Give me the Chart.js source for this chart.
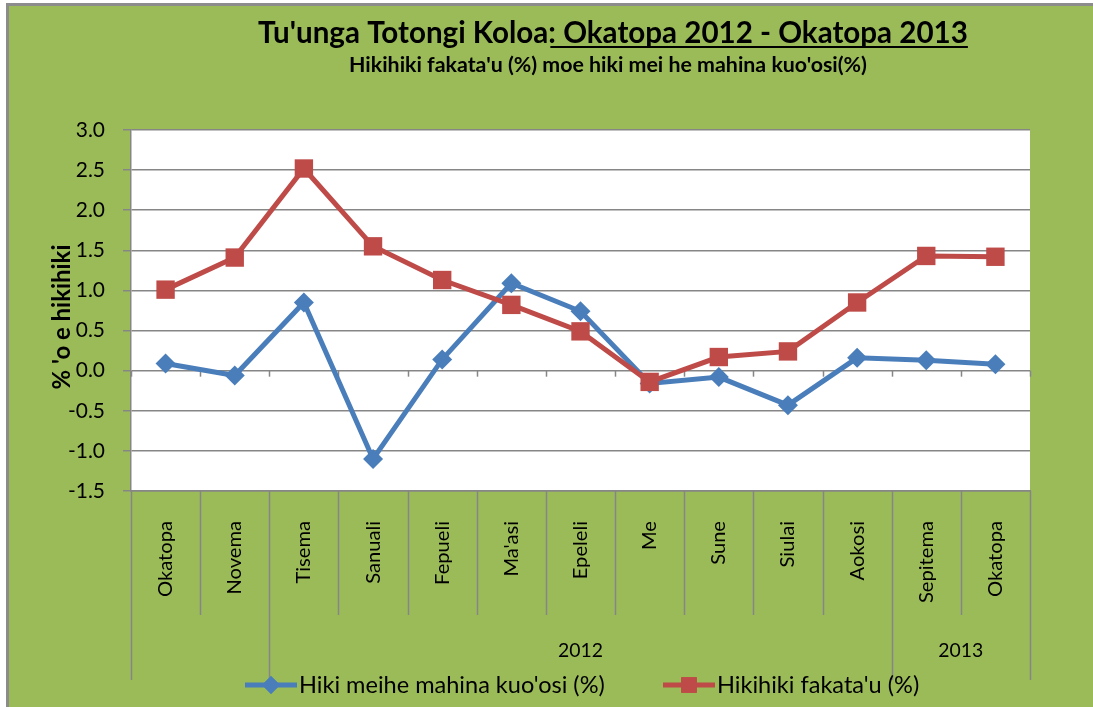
<!DOCTYPE html>
<html>
<head>
<meta charset="utf-8">
<script src="https://cdn.jsdelivr.net/npm/chart.js@4.4.0/dist/chart.umd.min.js"></script>
<style>
  html, body { margin: 0; padding: 0; background: #fff; }
</style>
</head>
<body>
<canvas id="cpiChart" width="1093" height="707"></canvas>
<script>
// mahina (categories)
const months = ['Okatopa', 'Novema', 'Tisema', 'Sanuali', 'Fepueli', "Ma'asi", 'Epeleli', 'Me', 'Sune', 'Siulai', 'Aokosi', 'Sepitema', 'Okatopa'];
// year row under the months: label + first / last-exclusive month index
const yearLabels = ['', '2012', '2013'];
const yearStarts = [0, 2, 11];
const yearEnds = [2, 11, 13];

const monthlyChange = [0.09, -0.06, 0.85, -1.10, 0.14, 1.09, 0.74, -0.16, -0.08, -0.43, 0.16, 0.13, 0.08];
const annualChange = [1.01, 1.41, 2.52, 1.55, 1.13, 0.82, 0.49, -0.14, 0.17, 0.24, 0.85, 1.43, 1.42];

const seriesNames = ["Hiki meihe mahina kuo'osi (%)", "Hikihiki fakata'u (%)"];
const yMin = -1.5, yMax = 3.0, yStep = 0.5;

const titleMain = "Tu'unga Totongi Koloa";
const titleUnder = ": Okatopa 2012 - Okatopa 2013";
const subTitle = "Hikihiki fakata'u (%) moe hiki mei he mahina kuo'osi(%)";
const yTitle = "% 'o e hikihiki";

const FONT = 'Lato, "Open Sans", sans-serif';
const BLUE = '#4A7EBB';
const RED = '#BE4B48';
const GRID = '#868686';

// the original uses Calibri, so size the substitute font by the width the text had there
function fitSize(text, weight, target) {
  const c = document.createElement('canvas').getContext('2d');
  c.font = weight + ' 100px ' + FONT;
  return 100 * target / c.measureText(text).width;
}
const titleSize = fitSize(titleMain + titleUnder, 'bold', 710);
const subSize = fitSize(subTitle, 'bold', 518);
const yTitleSize = fitSize(yTitle, 'bold', 145);
const catSize = fitSize('Okatopa', 'normal', 76);
const legendSize = fitSize(seriesNames[0], 'normal', 306);
const numSize = fitSize('-1.5', 'normal', 37);
const yearSize = fitSize('2012', 'normal', 45);

const excelLook = {
  id: 'excelLook',
  beforeDraw(chart) {
    const { ctx, chartArea: a, width, height } = chart;
    ctx.save();
    ctx.fillStyle = '#fff';
    ctx.fillRect(0, 0, width, height);
    ctx.fillStyle = '#9BBB59';
    ctx.fillRect(6, 3, width - 6, height - 3);
    ctx.fillStyle = '#8c8c8c';
    ctx.fillRect(6, 3, 3, height - 3);
    ctx.fillRect(6, 3, width - 6, 3);
    ctx.fillStyle = '#fff';
    ctx.fillRect(a.left, a.top, a.right - a.left, a.bottom - a.top);
    ctx.restore();
  },
  beforeDatasetsDraw(chart) {
    // small ticks on the zero line
    const { ctx } = chart;
    const xs = chart.scales.x, ys = chart.scales.y;
    const y0 = ys.getPixelForValue(0);
    ctx.save();
    ctx.strokeStyle = GRID;
    ctx.lineWidth = 1.5;
    for (let i = 0; i <= months.length; i++) {
      const x = Math.round(xs.getPixelForValue(i - 0.5)) + 0.5;
      ctx.beginPath();
      ctx.moveTo(x, y0);
      ctx.lineTo(x, y0 + 6);
      ctx.stroke();
    }
    ctx.restore();
  },
  afterDraw(chart) {
    const { ctx, chartArea: a } = chart;
    const xs = chart.scales.x;
    ctx.save();

    // separators under the axis
    ctx.strokeStyle = GRID;
    ctx.lineWidth = 1.5;
    for (let i = 0; i <= months.length; i++) {
      const x = Math.round(xs.getPixelForValue(i - 0.5)) + 0.5;
      const isGroup = yearStarts.includes(i) || yearEnds.includes(i);
      ctx.beginPath();
      ctx.moveTo(x, a.bottom);
      ctx.lineTo(x, isGroup ? 680 : 615);
      ctx.stroke();
    }

    // year labels
    ctx.fillStyle = '#000';
    ctx.font = yearSize + 'px ' + FONT;
    ctx.textAlign = 'center';
    ctx.textBaseline = 'middle';
    yearLabels.forEach((lab, k) => {
      const x0 = xs.getPixelForValue(yearStarts[k] - 0.5);
      const x1 = xs.getPixelForValue(yearEnds[k] - 0.5);
      ctx.fillText(lab, (x0 + x1) / 2, 651);
    });

    // title with underlined part
    ctx.font = 'bold ' + titleSize + 'px ' + FONT;
    ctx.textAlign = 'left';
    ctx.textBaseline = 'alphabetic';
    const w1 = ctx.measureText(titleMain).width;
    const w2 = ctx.measureText(titleUnder).width;
    const tx = 613 - (w1 + w2) / 2;
    ctx.fillText(titleMain, tx, 43);
    ctx.fillText(titleUnder, tx + w1, 43);
    ctx.fillRect(tx + w1 + 2, 46, w2 - 2, 2);

    ctx.font = 'bold ' + subSize + 'px ' + FONT;
    ctx.textAlign = 'center';
    ctx.textBaseline = 'middle';
    ctx.fillText(subTitle, 608, 65);

    // y axis title
    ctx.save();
    ctx.translate(62, 317);
    ctx.rotate(-Math.PI / 2);
    ctx.font = 'bold ' + yTitleSize + 'px ' + FONT;
    ctx.fillText(yTitle, 0, 0);
    ctx.restore();

    // legend
    const items = [
      { x: 245, color: BLUE, style: 'rectRot', r: 9 },
      { x: 663, color: RED, style: 'rect', r: 11 }
    ];
    ctx.font = legendSize + 'px ' + FONT;
    ctx.textAlign = 'left';
    items.forEach((it, k) => {
      const y = 685;
      ctx.strokeStyle = it.color;
      ctx.lineWidth = 5;
      ctx.beginPath();
      ctx.moveTo(it.x, y);
      ctx.lineTo(it.x + 52, y);
      ctx.stroke();
      ctx.fillStyle = it.color;
      Chart.helpers.drawPoint(ctx, { pointStyle: it.style, radius: it.r, borderWidth: 0 }, it.x + 26, y);
      ctx.fill();
      ctx.fillStyle = '#000';
      ctx.textBaseline = 'middle';
      ctx.fillText(seriesNames[k], it.x + 54, y);
    });

    ctx.restore();
  }
};

document.addEventListener('DOMContentLoaded', function() {
  const ctx = document.getElementById('cpiChart');
  new Chart(ctx, {
    type: 'line',
    data: {
      labels: months,
      datasets: [{
        label: seriesNames[0],
        data: monthlyChange,
        borderColor: BLUE,
        backgroundColor: BLUE,
        borderWidth: 5,
        pointStyle: 'rectRot',
        pointRadius: 10,
        pointBorderWidth: 0,
        tension: 0,
        order: 1
      },
      {
        label: seriesNames[1],
        data: annualChange,
        borderColor: RED,
        backgroundColor: RED,
        borderWidth: 5,
        pointStyle: 'rect',
        pointRadius: 13,
        pointBorderWidth: 0,
        tension: 0,
        order: 0
      }]
    },
    options: {
      responsive: false,
      animation: false,
      devicePixelRatio: 1,
      layout: {
        padding: { top: 130, right: 63, bottom: 0, left: 0 }
      },
      plugins: {
        legend: { display: false },
        title: { display: false },
        tooltip: { enabled: false }
      },
      scales: {
        x: {
          offset: true,
          afterFit(s) { s.height = 216; },
          grid: { display: false },
          border: { display: true, color: GRID, width: 1.5 },
          ticks: {
            autoSkip: false,
            minRotation: 90,
            maxRotation: 90,
            padding: 22,
            color: '#000',
            font: { family: FONT, size: catSize }
          }
        },
        y: {
          min: yMin,
          max: yMax,
          afterFit(s) { s.width = 131; },
          grid: { color: GRID, lineWidth: 1.5, tickLength: 8 },
          border: { display: true, color: GRID, width: 1.5 },
          ticks: {
            stepSize: yStep,
            padding: 18,
            color: '#000',
            font: { family: FONT, size: numSize },
            callback: v => v.toFixed(1)
          }
        }
      }
    },
    plugins: [excelLook]
  });
});
</script>
</body>
</html>
